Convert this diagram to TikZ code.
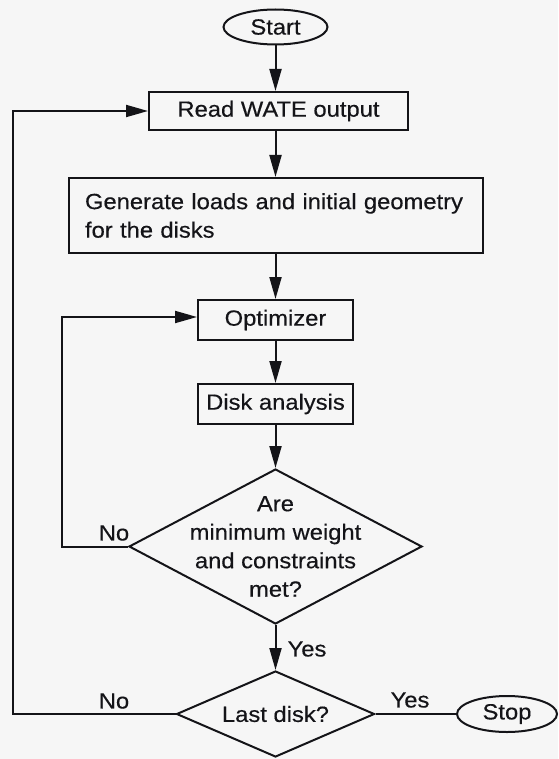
\documentclass[tikz,border=0pt]{standalone}
\usepackage{fontspec}
\setmainfont{Liberation Sans}[FakeStretch=1.08,FakeBold=0.4]
\usetikzlibrary{shapes.geometric,arrows.meta}
\definecolor{bg}{RGB}{246,246,246}
\definecolor{ink}{RGB}{20,20,24}
\begin{document}
\begin{tikzpicture}[x=1pt,y=-1pt,
  every node/.style={font=\fontsize{22}{28.5}\selectfont, text=ink},
  proc/.style={draw=ink, line width=2pt, rectangle, inner sep=0pt},
  term/.style={draw=ink, line width=2pt, ellipse, inner sep=0pt},
  dec/.style={draw=ink, line width=2pt, diamond, inner sep=0pt},
  conn/.style={draw=ink, line width=2pt, -{Triangle[length=22pt,width=12pt]}},
  plain/.style={draw=ink, line width=2pt},
  lbl/.style={inner sep=0pt}
]
\fill[bg] (0,0) rectangle (558,759);
\useasboundingbox (0,0) rectangle (558,759);

\node[term, minimum width=104pt, minimum height=35pt] (start) at (275.5,27) {Start};
\node[proc, minimum width=259pt, minimum height=38pt] (read) at (278.5,111) {Read WATE output};
\node[proc, minimum width=414pt, minimum height=75pt, text width=382pt, align=left, inner xsep=16pt] (gen) at (276,215.5)
  {Generate loads and initial geometry\\for the disks};
\node[proc, minimum width=155pt, minimum height=40pt] (opt) at (275.5,320) {Optimizer};
\node[proc, minimum width=155pt, minimum height=40pt] (disk) at (275.5,404) {Disk analysis};
\node[dec, minimum width=293pt, minimum height=155pt, shape aspect=1.89] (d1) at (275.5,546.5) {};
\node[lbl, align=center] (d1t) at (d1.center) {Are\\minimum weight\\and constraints\\met?};
\node[dec, minimum width=198pt, minimum height=86pt, shape aspect=2.3] (d2) at (275.5,714) {};
\node[lbl] (d2t) at (d2.center) {Last disk?};
\node[term, minimum width=100pt, minimum height=36pt] (stop) at (507,714) {Stop};

\coordinate (c1) at (13,714);
\coordinate (c2) at (13,111);
\coordinate (c3) at (62,546.5);
\coordinate (c4) at (62,317);

\draw[conn] (start.south) -- (start.south |- read.north);
\draw[conn] (read.south -| start.south) -- (start.south |- gen.north);
\draw[conn] (gen.south -| start.south) -- (start.south |- opt.north);
\draw[conn] (opt.south -| start.south) -- (start.south |- disk.north);
\draw[conn] (disk.south -| start.south) -- (d1.north);
\draw[conn] (d1.south) -- (d2.north);
\draw[plain] (d2.east) -- (stop.west);
\draw[conn] (d2.west) -- (c1) -- (c2) -- (read.west);
\draw[conn] (d1.west) -- (c3) -- (c4) -- (opt.west |- c4);

\node[lbl] (yes1) at (307,649) {Yes};
\node[lbl] (yes2) at (410,700) {Yes};
\node[lbl] (no1) at (114,533) {No};
\node[lbl] (no2) at (114,701) {No};
\end{tikzpicture}
\end{document}
